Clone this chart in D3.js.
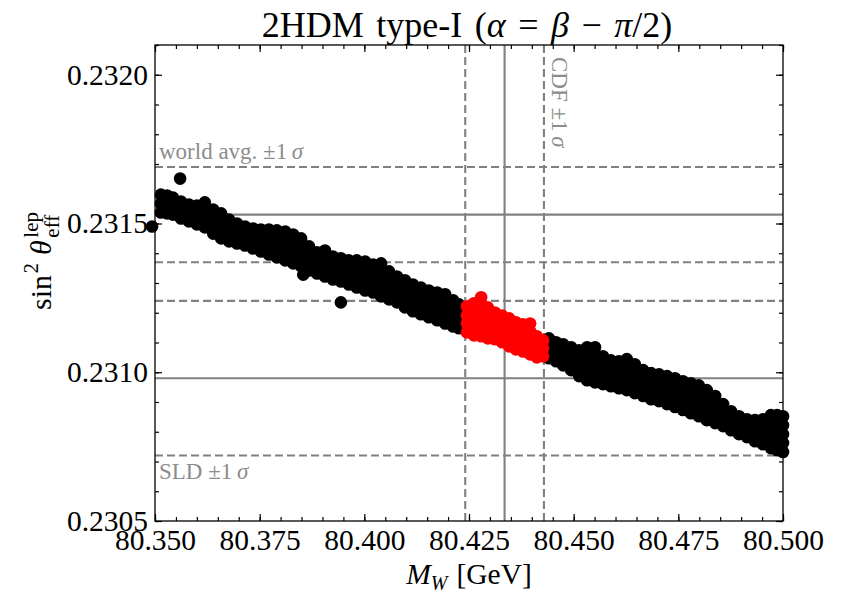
<!DOCTYPE html>
<html>
<head>
<meta charset="utf-8">
<script src="https://cdn.jsdelivr.net/npm/d3@7"></script>
<style>
  body { margin: 0; background: #fff; }
  svg { display: block; }
  text { font-family: "Liberation Serif", "DejaVu Serif", serif; }
</style>
</head>
<body>
<svg id="chart" width="844" height="595"></svg>
<script>
// Axis ranges and ticks
const mwDomain = [80.35, 80.50];
const sinDomain = [0.2305, 0.2321];
const xMajorTicks = [80.350, 80.375, 80.400, 80.425, 80.450, 80.475, 80.500];
const xTickLabels = ["80.350", "80.375", "80.400", "80.425", "80.450", "80.475", "80.500"];
const yMajorTicks = [0.2305, 0.2310, 0.2315, 0.2320];
const yTickLabels = ["0.2305", "0.2310", "0.2315", "0.2320"];
const xMinorStep = 0.005;
const yMinorStep = 0.0001;

// Measurements: [low, central, high]
const cdfMW = [80.4241, 80.4335, 80.4429];
const worldAvgSin = [0.23137, 0.23153, 0.23169];
const sldSin = [0.23072, 0.23098, 0.23124];

// Scan points: [M_W (GeV), sin^2 theta_eff^lep]
const scanPoints = [
  [80.3493,0.231490],[80.3560,0.231651],
  [80.3514,0.231597],[80.3514,0.231567],[80.3514,0.231537],
  [80.3529,0.231594],[80.3529,0.231564],[80.3529,0.231534],
  [80.3543,0.231587],[80.3543,0.231560],[80.3543,0.231530],
  [80.3562,0.231574],[80.3562,0.231547],[80.3562,0.231517],
  [80.3581,0.231564],[80.3581,0.231537],[80.3581,0.231507],
  [80.3600,0.231560],[80.3600,0.231530],[80.3600,0.231497],
  [80.3619,0.231571],[80.3619,0.231544],[80.3619,0.231517],[80.3619,0.231487],
  [80.3639,0.231547],[80.3639,0.231520],[80.3639,0.231493],[80.3639,0.231466],
  [80.3658,0.231534],[80.3658,0.231507],[80.3658,0.231480],[80.3658,0.231450],
  [80.3677,0.231513],[80.3677,0.231490],[80.3677,0.231463],[80.3677,0.231440],
  [80.3696,0.231500],[80.3696,0.231477],[80.3696,0.231456],[80.3696,0.231433],
  [80.3715,0.231490],[80.3715,0.231470],[80.3715,0.231446],[80.3715,0.231426],
  [80.3734,0.231483],[80.3734,0.231460],[80.3734,0.231440],[80.3734,0.231416],
  [80.3753,0.231480],[80.3753,0.231456],[80.3753,0.231430],[80.3753,0.231406],
  [80.3772,0.231480],[80.3772,0.231453],[80.3772,0.231423],[80.3772,0.231396],
  [80.3791,0.231477],[80.3791,0.231446],[80.3791,0.231416],[80.3791,0.231386],
  [80.3811,0.231473],[80.3811,0.231450],[80.3811,0.231423],[80.3811,0.231399],[80.3811,0.231376],
  [80.3830,0.231463],[80.3830,0.231440],[80.3830,0.231413],[80.3830,0.231389],[80.3830,0.231366],
  [80.3849,0.231450],[80.3849,0.231426],[80.3849,0.231403],[80.3849,0.231379],[80.3849,0.231356],
  [80.3854,0.231328],
  [80.3868,0.231423],[80.3868,0.231396],[80.3868,0.231369],[80.3868,0.231342],
  [80.3887,0.231403],[80.3887,0.231379],[80.3887,0.231356],[80.3887,0.231332],
  [80.3906,0.231409],[80.3906,0.231379],[80.3906,0.231352],[80.3906,0.231322],
  [80.3925,0.231389],[80.3925,0.231362],[80.3925,0.231339],[80.3925,0.231312],
  [80.3944,0.231383],[80.3944,0.231356],[80.3944,0.231332],[80.3944,0.231305],[80.3944,0.231235],
  [80.3963,0.231376],[80.3963,0.231349],[80.3963,0.231322],[80.3963,0.231295],
  [80.3982,0.231376],[80.3982,0.231346],[80.3982,0.231316],[80.3982,0.231285],
  [80.4002,0.231372],[80.4002,0.231349],[80.4002,0.231322],[80.4002,0.231299],[80.4002,0.231275],
  [80.4021,0.231362],[80.4021,0.231339],[80.4021,0.231316],[80.4021,0.231292],[80.4021,0.231268],
  [80.4040,0.231366],[80.4040,0.231339],[80.4040,0.231309],[80.4040,0.231282],[80.4040,0.231255],
  [80.4059,0.231339],[80.4059,0.231316],[80.4059,0.231292],[80.4059,0.231268],[80.4059,0.231245],
  [80.4078,0.231322],[80.4078,0.231292],[80.4078,0.231265],[80.4078,0.231235],
  [80.4097,0.231309],[80.4097,0.231279],[80.4097,0.231248],[80.4097,0.231218],
  [80.4116,0.231295],[80.4116,0.231265],[80.4116,0.231235],[80.4116,0.231205],
  [80.4135,0.231285],[80.4135,0.231255],[80.4135,0.231225],[80.4135,0.231195],
  [80.4154,0.231275],[80.4154,0.231245],[80.4154,0.231215],[80.4154,0.231185],
  [80.4174,0.231268],[80.4174,0.231238],[80.4174,0.231208],[80.4174,0.231175],
  [80.4193,0.231262],[80.4193,0.231228],[80.4193,0.231198],[80.4193,0.231164],
  [80.4212,0.231242],[80.4212,0.231211],[80.4212,0.231185],[80.4212,0.231154],
  [80.4226,0.231228],[80.4226,0.231201],[80.4226,0.231175],[80.4226,0.231148],
  [80.4245,0.231222],[80.4245,0.231191],[80.4245,0.231164],[80.4245,0.231134],
  [80.4262,0.231232],[80.4262,0.231205],[80.4262,0.231178],[80.4262,0.231151],[80.4262,0.231124],
  [80.4279,0.231252],[80.4279,0.231225],[80.4279,0.231198],[80.4279,0.231175],[80.4279,0.231148],[80.4279,0.231121],
  [80.4295,0.231218],[80.4295,0.231191],[80.4295,0.231164],[80.4295,0.231141],[80.4295,0.231114],
  [80.4312,0.231201],[80.4312,0.231171],[80.4312,0.231141],[80.4312,0.231111],
  [80.4329,0.231191],[80.4329,0.231161],[80.4329,0.231131],[80.4329,0.231101],
  [80.4346,0.231181],[80.4346,0.231151],[80.4346,0.231117],[80.4346,0.231087],
  [80.4362,0.231168],[80.4362,0.231138],[80.4362,0.231107],[80.4362,0.231077],
  [80.4379,0.231161],[80.4379,0.231131],[80.4379,0.231101],[80.4379,0.231070],
  [80.4396,0.231164],[80.4396,0.231138],[80.4396,0.231111],[80.4396,0.231084],[80.4396,0.231060],
  [80.4412,0.231121],[80.4412,0.231097],[80.4412,0.231074],[80.4412,0.231050],
  [80.4427,0.231107],[80.4427,0.231081],[80.4427,0.231054],
  [80.4441,0.231114],[80.4441,0.231081],[80.4441,0.231047],
  [80.4458,0.231101],[80.4458,0.231070],[80.4458,0.231037],
  [80.4475,0.231094],[80.4475,0.231070],[80.4475,0.231047],[80.4475,0.231023],
  [80.4494,0.231084],[80.4494,0.231057],[80.4494,0.231034],[80.4494,0.231007],
  [80.4513,0.231074],[80.4513,0.231044],[80.4513,0.231017],[80.4513,0.230987],
  [80.4532,0.231084],[80.4532,0.231057],[80.4532,0.231027],[80.4532,0.231000],[80.4532,0.230973],
  [80.4551,0.231084],[80.4551,0.231054],[80.4551,0.231023],[80.4551,0.230997],[80.4551,0.230966],
  [80.4570,0.231054],[80.4570,0.231023],[80.4570,0.230990],[80.4570,0.230960],
  [80.4589,0.231040],[80.4589,0.231010],[80.4589,0.230983],[80.4589,0.230953],
  [80.4608,0.231037],[80.4608,0.231007],[80.4608,0.230977],[80.4608,0.230946],
  [80.4627,0.231044],[80.4627,0.231017],[80.4627,0.230990],[80.4627,0.230963],[80.4627,0.230940],
  [80.4646,0.231027],[80.4646,0.230993],[80.4646,0.230963],[80.4646,0.230930],
  [80.4666,0.231007],[80.4666,0.230977],[80.4666,0.230950],[80.4666,0.230920],
  [80.4685,0.230997],[80.4685,0.230966],[80.4685,0.230940],[80.4685,0.230909],
  [80.4704,0.230993],[80.4704,0.230963],[80.4704,0.230933],[80.4704,0.230903],
  [80.4723,0.230987],[80.4723,0.230956],[80.4723,0.230923],[80.4723,0.230893],
  [80.4742,0.230980],[80.4742,0.230946],[80.4742,0.230916],[80.4742,0.230883],
  [80.4761,0.230970],[80.4761,0.230936],[80.4761,0.230906],[80.4761,0.230873],
  [80.4780,0.230963],[80.4780,0.230936],[80.4780,0.230913],[80.4780,0.230886],[80.4780,0.230862],
  [80.4799,0.230956],[80.4799,0.230930],[80.4799,0.230903],[80.4799,0.230879],[80.4799,0.230852],
  [80.4818,0.230940],[80.4818,0.230913],[80.4818,0.230889],[80.4818,0.230862],[80.4818,0.230839],
  [80.4838,0.230920],[80.4838,0.230889],[80.4838,0.230859],[80.4838,0.230829],
  [80.4857,0.230893],[80.4857,0.230869],[80.4857,0.230842],[80.4857,0.230819],
  [80.4876,0.230869],[80.4876,0.230839],[80.4876,0.230805],
  [80.4895,0.230852],[80.4895,0.230822],[80.4895,0.230792],
  [80.4914,0.230842],[80.4914,0.230812],[80.4914,0.230782],
  [80.4933,0.230839],[80.4933,0.230815],[80.4933,0.230792],[80.4933,0.230768],
  [80.4952,0.230842],[80.4952,0.230815],[80.4952,0.230785],[80.4952,0.230758],
  [80.4971,0.230856],[80.4971,0.230829],[80.4971,0.230799],[80.4971,0.230772],[80.4971,0.230745],
  [80.4986,0.230856],[80.4986,0.230826],[80.4986,0.230795],[80.4986,0.230768],[80.4986,0.230738],
  [80.5000,0.230852],[80.5000,0.230822],[80.5000,0.230792],[80.5000,0.230762],[80.5000,0.230732]
];

// Layout
const margin = { left: 155, right: 61, top: 45, bottom: 74 };
const W = 844, H = 595;
const plotW = W - margin.left - margin.right;
const plotH = H - margin.top - margin.bottom;
const lineGray = "#808080";
const textGray = "#8c8c8c";
const dotR = 6.3;

const svg = d3.select("#chart");
svg.append("rect").attr("width", W).attr("height", H).attr("fill", "#fff");

const x = d3.scaleLinear().domain(mwDomain).range([0, plotW]);
const y = d3.scaleLinear().domain(sinDomain).range([plotH, 0]);

const g = svg.append("g").attr("transform", `translate(${margin.left},${margin.top})`);

// Reference lines: central value solid, +-1 sigma dashed
const hLines = [
  ...worldAvgSin.map((v, i) => ({ v, dashed: i !== 1 })),
  ...sldSin.map((v, i) => ({ v, dashed: i !== 1 }))
];
g.append("g").selectAll("line").data(hLines).join("line")
  .attr("x1", 0).attr("x2", plotW)
  .attr("y1", d => y(d.v)).attr("y2", d => y(d.v))
  .attr("stroke", lineGray).attr("stroke-width", 2.1)
  .attr("stroke-dasharray", d => d.dashed ? "8,4" : null);

const vLines = cdfMW.map((v, i) => ({ v, dashed: i !== 1 }));
g.append("g").selectAll("line").data(vLines).join("line")
  .attr("y1", 0).attr("y2", plotH)
  .attr("x1", d => x(d.v)).attr("x2", d => x(d.v))
  .attr("stroke", lineGray).attr("stroke-width", 2.1)
  .attr("stroke-dasharray", d => d.dashed ? "8,4" : null);

// Band labels
const fs = 23;
function sigmaLabel(sel, prefix) {
  sel.append("tspan").text(prefix + " \u00b11\u2009");
  sel.append("tspan").attr("font-style", "italic").text("\u03c3");
}
sigmaLabel(g.append("text").attr("x", 4).attr("y", y(worldAvgSin[2]) - 8)
  .attr("font-size", fs).attr("fill", textGray), "world avg.");
sigmaLabel(g.append("text").attr("x", 4).attr("y", y(sldSin[0]) + 23)
  .attr("font-size", fs).attr("fill", textGray), "SLD");
sigmaLabel(g.append("text")
  .attr("transform", `translate(${x(cdfMW[2]) + 8},12) rotate(90)`)
  .attr("font-size", fs).attr("fill", textGray), "CDF");

// Scan points; those inside the CDF window drawn in red on top
const inCdf = d => d[0] >= cdfMW[0] && d[0] <= cdfMW[2];
const dots = g.append("g");
dots.selectAll("circle.out").data(scanPoints.filter(d => !inCdf(d))).join("circle")
  .attr("class", "out")
  .attr("cx", d => x(d[0])).attr("cy", d => y(d[1])).attr("r", dotR)
  .attr("fill", "#000");
dots.selectAll("circle.in").data(scanPoints.filter(inCdf)).join("circle")
  .attr("class", "in")
  .attr("cx", d => x(d[0])).attr("cy", d => y(d[1])).attr("r", dotR)
  .attr("fill", "#ff0000");

// Axes with inward ticks on all four sides
const fmtX = d => xTickLabels[xMajorTicks.findIndex(t => Math.abs(t - d) < 1e-9)];
const fmtY = d => yTickLabels[yMajorTicks.findIndex(t => Math.abs(t - d) < 1e-9)];
const xMinor = d3.range(mwDomain[0], mwDomain[1] + 1e-9, xMinorStep);
const yMinor = d3.range(sinDomain[0], sinDomain[1] + 1e-9, yMinorStep);
const major = 7, minor = 4;

function styleAxis(sel) {
  sel.select(".domain").remove();
  sel.selectAll(".tick line").attr("stroke", "#000").attr("stroke-width", 1.2);
  sel.selectAll("text").attr("font-family", "Liberation Serif, DejaVu Serif, serif")
    .attr("font-size", 29.5).attr("fill", "#000");
  sel.attr("font-family", null).attr("font-size", null);
}

g.append("g").attr("transform", `translate(0,${plotH})`)
  .call(d3.axisBottom(x).tickValues(xMinor).tickFormat("").tickSize(-minor).tickSizeOuter(0)).call(styleAxis);
g.append("g").attr("transform", `translate(0,${plotH})`)
  .call(d3.axisBottom(x).tickValues(xMajorTicks).tickFormat(fmtX).tickSize(-major).tickSizeOuter(0).tickPadding(8)).call(styleAxis);
g.append("g")
  .call(d3.axisTop(x).tickValues(xMinor).tickFormat("").tickSize(-minor).tickSizeOuter(0)).call(styleAxis);
g.append("g")
  .call(d3.axisTop(x).tickValues(xMajorTicks).tickFormat("").tickSize(-major).tickSizeOuter(0)).call(styleAxis);
g.append("g")
  .call(d3.axisLeft(y).tickValues(yMinor).tickFormat("").tickSize(-minor).tickSizeOuter(0)).call(styleAxis);
g.append("g")
  .call(d3.axisLeft(y).tickValues(yMajorTicks).tickFormat(fmtY).tickSize(-major).tickSizeOuter(0).tickPadding(7)).call(styleAxis);
g.append("g").attr("transform", `translate(${plotW},0)`)
  .call(d3.axisRight(y).tickValues(yMinor).tickFormat("").tickSize(-minor).tickSizeOuter(0)).call(styleAxis);
g.append("g").attr("transform", `translate(${plotW},0)`)
  .call(d3.axisRight(y).tickValues(yMajorTicks).tickFormat("").tickSize(-major).tickSizeOuter(0)).call(styleAxis);

// Frame
g.append("rect").attr("width", plotW).attr("height", plotH)
  .attr("fill", "none").attr("stroke", "#000").attr("stroke-width", 1.3);

// Title
const title = svg.append("text").attr("x", margin.left + plotW / 2 - 2).attr("y", 37)
  .attr("text-anchor", "middle").attr("font-size", 36).attr("word-spacing", 3.5).attr("fill", "#000");
title.append("tspan").text("2HDM type-I (");
title.append("tspan").attr("font-style", "italic").text("\u03b1");
title.append("tspan").text(" = ");
title.append("tspan").attr("font-style", "italic").text("\u03b2");
title.append("tspan").text(" \u2212 ");
title.append("tspan").attr("font-style", "italic").text("\u03c0");
title.append("tspan").text("/2)");

// x-axis label: M_W [GeV]
const xl = svg.append("text").attr("x", margin.left + plotW / 2).attr("y", 584)
  .attr("text-anchor", "middle").attr("font-size", 29.5).attr("fill", "#000");
xl.append("tspan").attr("font-style", "italic").text("M");
xl.append("tspan").attr("font-style", "italic").attr("font-size", 20).attr("dy", 6).text("W");
xl.append("tspan").attr("dy", -6).attr("dx", 9).text("[GeV]");

// y-axis label: sin^2 theta_eff^lep (rotated)
const yl = svg.append("g").attr("transform", "translate(51,261) rotate(-90)");
const inner = yl.append("g");
let cx = 0;
function piece(str, opts) {
  const t = inner.append("text").attr("x", cx + (opts.dx || 0)).attr("y", opts.dy || 0)
    .attr("font-size", opts.size).attr("fill", "#000").text(str);
  if (opts.italic) t.attr("font-style", "italic");
  return t.node().getComputedTextLength() + (opts.dx || 0);
}
cx += piece("sin", { size: 30 });
cx += piece("2", { size: 21, dy: -13, dx: 1.5 });
cx += piece("\u03b8", { size: 30, italic: true, dx: 8 });
const wLep = piece("lep", { size: 21, dy: -13, dx: 2.5 });
const wEff = piece("eff", { size: 21, dy: 8, dx: 2.5 });
cx += Math.max(wLep, wEff);
inner.attr("transform", `translate(${-cx / 2},0)`);
</script>
</body>
</html>
